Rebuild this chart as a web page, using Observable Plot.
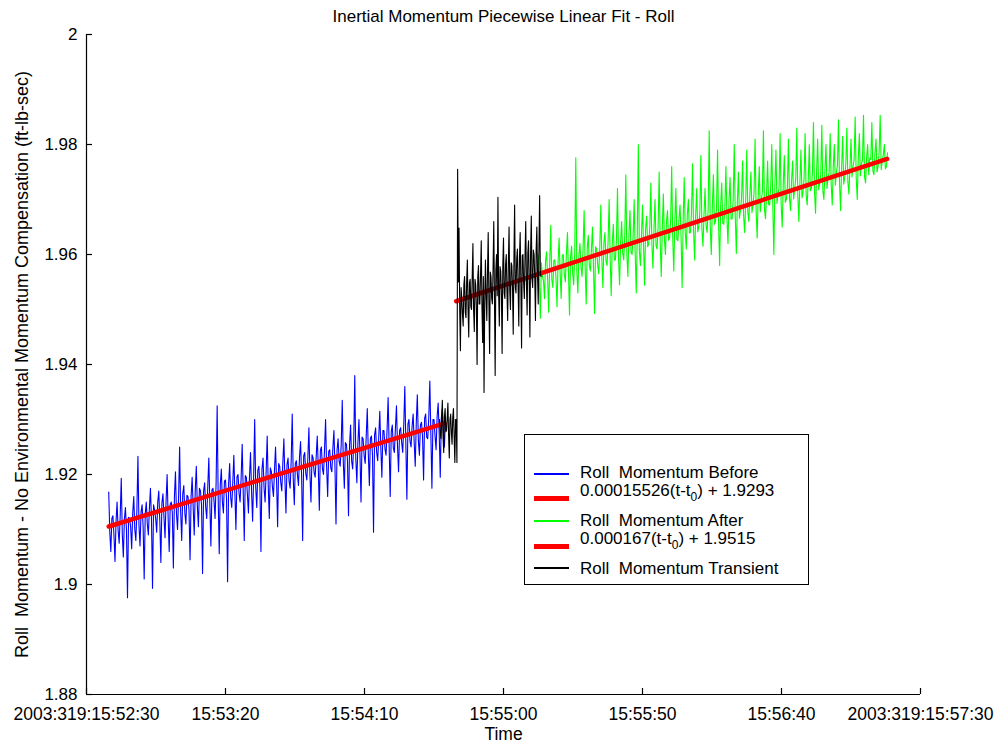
<!DOCTYPE html>
<html><head><meta charset="utf-8">
<script src="https://cdn.jsdelivr.net/npm/d3@7"></script>
<script src="https://cdn.jsdelivr.net/npm/@observablehq/plot@0.6"></script>
<style>
body{margin:0;background:#fff;}
#wrap{position:relative;width:995px;height:744px;font-family:"Liberation Sans",Arial,sans-serif;color:#000;}
#wrap svg text{white-space:pre;}
#legend{position:absolute;left:524px;top:434px;width:283px;height:149px;border:1px solid #000;background:#fff;font-size:17px;}
.sw{position:absolute;left:9px;width:35px;}
.lbl{position:absolute;left:55px;line-height:17px;white-space:pre;}
.lbl sub{font-size:12px;vertical-align:-5px;line-height:0;}
</style></head><body><div id="wrap"></div>
<script>
const chartTitle = "Inertial Momentum Piecewise Linear Fit - Roll";
const xLabel = "Time";
const yLabel = "Roll  Momentum - No Environmental Momentum Compensation (ft-lb-sec)";
const xTickSeconds = [0, 50, 100, 150, 200, 250, 300];
const xTickLabels = ["2003:319:15:52:30", "15:53:20", "15:54:10", "15:55:00", "15:55:50", "15:56:40", "2003:319:15:57:30"];
const yTicks = [1.88, 1.9, 1.92, 1.94, 1.96, 1.98, 2];
const yTickLabels = ["1.88", "1.9", "1.92", "1.94", "1.96", "1.98", "2"];

// Roll Momentum Before (sample times: seconds after 15:52:30)
const beforeStart = 8, beforeStep = 0.375;
const beforeValues = [
1.9168,1.9095,1.9060,1.9120,1.9125,1.9090,1.9042,1.9115,1.9150,1.9098,1.9075,1.9125,1.9193,1.9092,1.9050,1.9118,1.9140,1.9100,1.8976,1.9122,
1.9120,1.9105,1.9065,1.9130,1.9160,1.9100,1.9080,1.9135,1.9233,1.9108,1.9070,1.9132,1.9145,1.9104,1.9010,1.9128,1.9150,1.9110,1.9090,1.9138,
1.9175,1.9118,1.8993,1.9145,1.9135,1.9120,1.9095,1.9150,1.9170,1.9115,1.9040,1.9148,1.9165,1.9122,1.9085,1.9152,1.9200,1.9120,1.9060,1.9146,
1.9150,1.9130,1.9030,1.9160,1.9205,1.9128,1.9100,1.9158,1.9250,1.9132,1.9080,1.9165,1.9180,1.9130,1.9110,1.9162,1.9160,1.9135,1.9045,1.9160,
1.9195,1.9140,1.9090,1.9172,1.9215,1.9142,1.9105,1.9175,1.9170,1.9145,1.9020,1.9170,1.9185,1.9140,1.9120,1.9178,1.9230,1.9146,1.9070,1.9172,
1.9175,1.9152,1.9120,1.9185,1.9325,1.9155,1.9056,1.9182,1.9210,1.9150,1.9130,1.9188,1.9190,1.9156,1.9005,1.9184,1.9220,1.9158,1.9140,1.9186,
1.9235,1.9165,1.9100,1.9196,1.9200,1.9166,1.9150,1.9194,1.9255,1.9168,1.9080,1.9198,1.9195,1.9164,1.9130,1.9195,1.9240,1.9170,1.9115,1.9197,
1.9300,1.9176,1.9140,1.9208,1.9215,1.9178,1.9060,1.9210,1.9230,1.9175,1.9150,1.9206,1.9270,1.9180,1.9120,1.9212,1.9205,1.9178,1.9160,1.9208,
1.9250,1.9188,1.9105,1.9220,1.9215,1.9186,1.9170,1.9222,1.9265,1.9190,1.9130,1.9218,1.9230,1.9188,1.9175,1.9224,1.9310,1.9192,1.9145,1.9220,
1.9225,1.9200,1.9180,1.9232,1.9260,1.9198,1.9080,1.9234,1.9240,1.9202,1.9190,1.9230,1.9285,1.9200,1.9150,1.9236,1.9230,1.9204,1.9195,1.9232,
1.9270,1.9212,1.9135,1.9244,1.9250,1.9210,1.9200,1.9246,1.9300,1.9214,1.9160,1.9242,1.9245,1.9212,1.9205,1.9248,1.9280,1.9215,1.9110,1.9244,
1.9265,1.9224,1.9215,1.9255,1.9335,1.9222,1.9175,1.9258,1.9255,1.9226,1.9125,1.9254,1.9290,1.9224,1.9210,1.9260,1.9380,1.9228,1.9185,1.9256,
1.9300,1.9236,1.9150,1.9268,1.9265,1.9234,1.9220,1.9270,1.9320,1.9238,1.9180,1.9266,1.9270,1.9236,1.9095,1.9272,1.9285,1.9240,1.9225,1.9268,
1.9315,1.9248,1.9195,1.9280,1.9280,1.9246,1.9235,1.9282,1.9340,1.9250,1.9160,1.9278,1.9290,1.9248,1.9240,1.9284,1.9325,1.9252,1.9205,1.9280,
1.9285,1.9258,1.9240,1.9290,1.9360,1.9256,1.9155,1.9292,1.9300,1.9260,1.9250,1.9288,1.9310,1.9258,1.9215,1.9294,1.9345,1.9262,1.9235,1.9290,
1.9295,1.9270,1.9190,1.9302,1.9310,1.9268,1.9265,1.9304,1.9370,1.9272,1.9175,1.9300,1.9300,1.9270,1.9245,1.9306,1.9330,1.9274,1.9195,1.9302,
1.9320,1.9276,1.9250,1.9305
];

// Roll Momentum Transient
const transientStart = 127, transientStep = 0.25;
const transientValues = [
1.9300,1.9275,1.9265,1.9300,1.9335,1.9270,1.9240,1.9305,1.9320,1.9278,1.9280,1.9302,1.9330,1.9272,1.9230,1.9300,1.9310,1.9276,1.9255,1.9304,
1.9320,1.9270,1.9222,1.9300,1.9300,1.9222,
1.9755,1.9550,1.9648,1.9500,1.9425,1.9540,1.9520,1.9490,1.9470,1.9545,1.9560,1.9495,1.9485,1.9550,1.9590,1.9500,1.9450,1.9548,1.9555,1.9505,
1.9500,1.9560,1.9620,1.9498,1.9460,1.9555,1.9545,1.9505,1.9400,1.9560,1.9580,1.9510,1.9510,1.9565,1.9625,1.9505,1.9440,1.9560,1.9349,1.9515,
1.9590,1.9520,1.9480,1.9570,1.9640,1.9515,1.9420,1.9568,1.9560,1.9520,1.9510,1.9575,1.9660,1.9520,1.9380,1.9572,1.9600,1.9525,1.9704,1.9530,
1.9470,1.9578,1.9570,1.9528,1.9420,1.9580,1.9630,1.9530,1.9520,1.9582,1.9600,1.9532,1.9480,1.9585,1.9650,1.9535,1.9500,1.9585,1.9580,1.9538,
1.9455,1.9590,1.9690,1.9540,1.9530,1.9592,1.9610,1.9542,1.9470,1.9595,1.9640,1.9545,1.9430,1.9598,1.9600,1.9548,1.9520,1.9600,1.9660,1.9550,
1.9490,1.9602,1.9625,1.9552,1.9450,1.9605,1.9670,1.9555,1.9540,1.9608,1.9600,1.9558,1.9480,1.9610,1.9650,1.9560,1.9510,1.9612,1.9707,1.9565,
1.9560
];

// Roll Momentum After
const afterStart = 162.5, afterStep = 0.375;
const afterValues = [
1.9600,1.9555,1.9484,1.9585,1.9560,1.9552,1.9520,1.9588,1.9605,1.9556,1.9495,1.9584,1.9653,1.9554,1.9540,1.9590,1.9590,1.9558,1.9505,1.9586,
1.9630,1.9566,1.9520,1.9598,1.9600,1.9564,1.9550,1.9600,1.9640,1.9568,1.9490,1.9596,1.9615,1.9566,1.9545,1.9602,1.9776,1.9570,1.9530,1.9598,
1.9620,1.9578,1.9560,1.9610,1.9680,1.9576,1.9510,1.9612,1.9635,1.9580,1.9570,1.9608,1.9650,1.9578,1.9493,1.9614,1.9610,1.9582,1.9565,1.9610,
1.9690,1.9590,1.9540,1.9622,1.9640,1.9588,1.9580,1.9624,1.9700,1.9592,1.9525,1.9620,1.9655,1.9590,1.9590,1.9626,1.9720,1.9594,1.9545,1.9622,
1.9660,1.9603,1.9590,1.9635,1.9745,1.9600,1.9560,1.9637,1.9680,1.9604,1.9600,1.9633,1.9700,1.9602,1.9530,1.9638,1.9800,1.9606,1.9580,1.9635,
1.9690,1.9616,1.9544,1.9648,1.9670,1.9614,1.9620,1.9650,1.9730,1.9618,1.9575,1.9646,1.9700,1.9616,1.9610,1.9652,1.9750,1.9620,1.9560,1.9648,
1.9710,1.9628,1.9600,1.9660,1.9680,1.9626,1.9630,1.9662,1.9760,1.9630,1.9570,1.9658,1.9720,1.9628,1.9625,1.9664,1.9690,1.9632,1.9540,1.9660,
1.9740,1.9641,1.9610,1.9673,1.9700,1.9639,1.9640,1.9675,1.9765,1.9643,1.9590,1.9671,1.9720,1.9641,1.9650,1.9677,1.9780,1.9645,1.9615,1.9673,
1.9720,1.9653,1.9640,1.9685,1.9825,1.9651,1.9600,1.9687,1.9745,1.9655,1.9660,1.9683,1.9790,1.9653,1.9580,1.9689,1.9730,1.9657,1.9655,1.9685,
1.9760,1.9666,1.9620,1.9698,1.9740,1.9664,1.9665,1.9700,1.9800,1.9668,1.9602,1.9696,1.9750,1.9666,1.9680,1.9702,1.9770,1.9670,1.9640,1.9698,
1.9790,1.9678,1.9660,1.9710,1.9750,1.9676,1.9690,1.9712,1.9810,1.9680,1.9630,1.9708,1.9760,1.9678,1.9700,1.9714,1.9825,1.9682,1.9665,1.9710,
1.9770,1.9691,1.9690,1.9723,1.9800,1.9689,1.9600,1.9725,1.9790,1.9693,1.9710,1.9721,1.9820,1.9691,1.9650,1.9727,1.9780,1.9695,1.9700,1.9723,
1.9810,1.9703,1.9680,1.9735,1.9770,1.9701,1.9720,1.9737,1.9830,1.9705,1.9660,1.9733,1.9790,1.9703,1.9715,1.9739,1.9820,1.9707,1.9690,1.9735,
1.9800,1.9716,1.9720,1.9748,1.9840,1.9714,1.9675,1.9750,1.9810,1.9718,1.9730,1.9746,1.9835,1.9716,1.9700,1.9752,1.9800,1.9720,1.9740,1.9748,
1.9820,1.9728,1.9690,1.9760,1.9800,1.9726,1.9750,1.9762,1.9845,1.9730,1.9680,1.9758,1.9815,1.9728,1.9740,1.9764,1.9830,1.9732,1.9710,1.9760,
1.9810,1.9741,1.9760,1.9773,1.9850,1.9739,1.9700,1.9775,1.9820,1.9743,1.9765,1.9771,1.9853,1.9741,1.9730,1.9777,1.9800,1.9745,1.9775,1.9773,
1.9840,1.9752,1.9745,1.9784,1.9810,1.9750,1.9760,1.9786,1.9853,1.9754,1.9770,1.9782,1.9800,1.9756,1.9760,1.9785
];

// Piecewise linear fits: slope*(t - t0) + intercept
const fitBeforeSlope = 0.00015526, fitBeforeIntercept = 1.9293, fitBeforeT0 = 128.8, fitBeforeRange = [8, 128.8];
const fitAfterSlope = 0.000167, fitAfterIntercept = 1.9515, fitAfterT0 = 133, fitAfterRange = [133, 288];

const legendItems = [
  {html: "Roll  Momentum Before", color: "#0000ff", w: 1.5, lineY: 39, textY: 38},
  {html: "0.00015526(t-t<sub>0</sub>) + 1.9293", color: "#ff0000", w: 5, lineY: 63, textY: 56},
  {html: "Roll  Momentum After", color: "#00ff00", w: 1.5, lineY: 86, textY: 86},
  {html: "0.000167(t-t<sub>0</sub>) + 1.9515", color: "#ff0000", w: 5, lineY: 111, textY: 104},
  {html: "Roll  Momentum Transient", color: "#000000", w: 1.5, lineY: 133, textY: 134}
];

const series = (start, step, values) => values.map((v, i) => ({t: start + i * step, v}));
const beforeData = series(beforeStart, beforeStep, beforeValues);
const transientData = series(transientStart, transientStep, transientValues);
const afterData = series(afterStart, afterStep, afterValues);
const fitLine = (range, slope, t0, b) => range.map(t => ({t, v: slope * (t - t0) + b}));
const fitBefore = fitLine(fitBeforeRange, fitBeforeSlope, fitBeforeT0, fitBeforeIntercept);
const fitAfter = fitLine(fitAfterRange, fitAfterSlope, fitAfterT0, fitAfterIntercept);

const W = 995, H = 744, mL = 86, mR = 75, mT = 34, mB = 50;
const chart = Plot.plot({
  width: W, height: H, marginLeft: mL, marginRight: mR, marginTop: mT, marginBottom: mB,
  style: {fontFamily: '"Liberation Sans", Arial, sans-serif', fontSize: "17px", background: "white", color: "black", overflow: "visible"},
  x: {domain: [0, 300]},
  y: {domain: [1.88, 2]},
  marks: [
    Plot.axisX({ticks: xTickSeconds, tickFormat: d => xTickLabels[xTickSeconds.indexOf(d)], tickSize: 0, tickPadding: 13, fontSize: 17.5,
      label: xLabel, labelAnchor: "center", labelArrow: "none", labelOffset: 45}),
    Plot.axisY({ticks: yTicks, tickFormat: d => yTickLabels[yTicks.indexOf(d)], tickSize: 0, tickPadding: 9, label: null}),
    Plot.text([yLabel], {text: d => d, frameAnchor: "left", textAnchor: "middle", rotate: -90, dx: -64, fontSize: 18}),
    Plot.ruleY([1.88], {stroke: "black", strokeWidth: 1.2}),
    Plot.ruleX([0], {stroke: "black", strokeWidth: 1.2}),
    Plot.tickX(xTickSeconds, {x: d => d, insetTop: (H - mT - mB) - 6, stroke: "black", strokeWidth: 1.2}),
    Plot.tickY(yTicks, {y: d => d, insetRight: (W - mL - mR) - 6, stroke: "black", strokeWidth: 1.2}),
    Plot.line(beforeData, {x: "t", y: "v", stroke: "#0000ff", strokeWidth: 1.1}),
    Plot.line(fitBefore, {x: "t", y: "v", stroke: "#ff0000", strokeWidth: 4.5}),
    Plot.line(afterData, {x: "t", y: "v", stroke: "#00ff00", strokeWidth: 1.1}),
    Plot.line(fitAfter, {x: "t", y: "v", stroke: "#ff0000", strokeWidth: 4.5}),
    Plot.line(transientData, {x: "t", y: "v", stroke: "#000000", strokeWidth: 1.1}),
    Plot.text([chartTitle], {text: d => d, frameAnchor: "top", dy: -25, fontSize: 17})
  ]
});
const wrap = document.getElementById("wrap");
wrap.appendChild(chart);

const legend = document.createElement("div");
legend.id = "legend";
legendItems.forEach(it => {
  const sw = document.createElement("div");
  sw.className = "sw";
  sw.style.top = (it.lineY - it.w / 2) + "px";
  sw.style.height = it.w + "px";
  sw.style.background = it.color;
  legend.appendChild(sw);
  const lb = document.createElement("div");
  lb.className = "lbl";
  lb.style.top = (it.textY - 9) + "px";
  lb.innerHTML = it.html;
  legend.appendChild(lb);
});
wrap.appendChild(legend);
</script></body></html>
